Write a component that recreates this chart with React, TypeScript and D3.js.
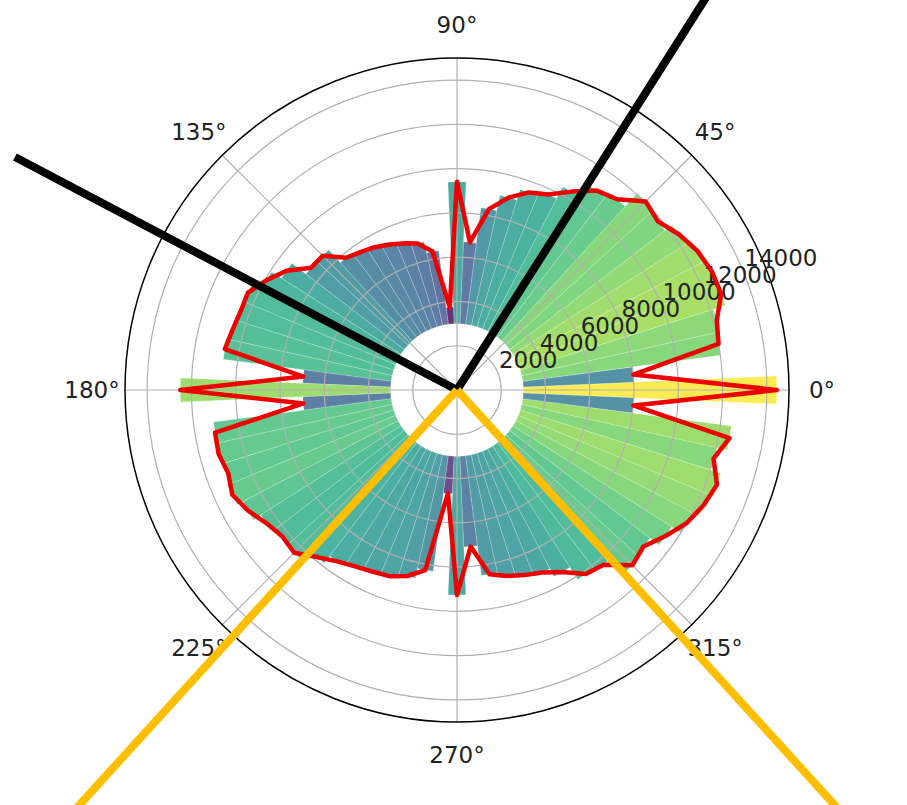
/**
 * Polar direction histogram
 *
 * 72 wedges (5° each) coloured with viridis by their value, a closed red
 * outline through the wedge tips, and four guide strokes from the centre.
 */

import React, { useEffect, useRef } from 'react';
import * as d3 from 'd3';

const WIDTH = 907;
const HEIGHT = 805;

// wedge centres, degrees counter-clockwise from east
const directions: number[] = [
  0, 5, 10, 15, 20, 25, 30, 35, 40, 45, 50, 55,
  60, 65, 70, 75, 80, 85, 90, 95, 100, 105, 110, 115,
  120, 125, 130, 135, 140, 145, 150, 155, 160, 165, 170, 175,
  180, 185, 190, 195, 200, 205, 210, 215, 220, 225, 230, 235,
  240, 245, 250, 255, 260, 265, 270, 275, 280, 285, 290, 295,
  300, 305, 310, 315, 320, 325, 330, 335, 340, 345, 350, 355,
];

// radial value reached by each wedge
const counts: number[] = [
  14450, 8000, 12000, 12150, 12700, 12700, 12550, 12250, 11850, 12050, 11250, 11000,
  10350, 9750, 9500, 9000, 8300, 6700, 9410, 3750, 6350, 6850, 7050, 7250,
  7450, 7600, 7800, 8580, 8600, 9400, 9930, 10420, 10400, 10500, 10650, 6970,
  12500, 6970, 11100, 11150, 11000, 11200, 10900, 10500, 10300, 10400, 9850, 9450,
  9200, 9050, 8950, 8700, 8260, 4690, 9260, 7100, 8450, 8700, 8900, 9100,
  9500, 10150, 10300, 11200, 11000, 11500, 12000, 12300, 12500, 12000, 12500, 8000,
];

const barBottom = 3000;
const barWidthDeg = 5;
const rMax = 15000;

const radialTicks: number[] = [2000, 4000, 6000, 8000, 10000, 12000, 14000];
const angleTicks: number[] = [0, 45, 90, 135, 180, 225, 270, 315];
const angleTickLabels: string[] = ['0°', '45°', '90°', '135°', '180°', '225°', '270°', '315°'];

// guide strokes drawn from the centre (direction in degrees, reach in radial units)
const blackGuideAngles: number[] = [57.6, 152.2];
const blackGuideReach: number[] = [24000, 22580];
const orangeGuideAngles: number[] = [227.7, 312.3];
const orangeGuideReach: number[] = [28000, 28000];

const FONT = '"DejaVu Sans", sans-serif';

const toRad = (deg: number) => (deg * Math.PI) / 180;
// d3 radial angles start at 12 o'clock and run clockwise
const d3Angle = (deg: number) => Math.PI / 2 - toRad(deg);

const PolarHistogram: React.FC = () => {
  const svgRef = useRef<SVGSVGElement>(null);

  useEffect(() => {
    document.body.style.margin = '0';
    if (!svgRef.current) return;

    const svg = d3.select(svgRef.current);
    svg.selectAll('*').remove();

    const cx = 457;
    const cy = 390;
    const outer = 332;

    const r = d3.scaleLinear().domain([0, rMax]).range([0, outer]);
    const color = d3
      .scaleSequential(d3.interpolateViridis)
      .domain([d3.min(counts) as number, d3.max(counts) as number]);

    const g = svg.append('g').attr('transform', `translate(${cx},${cy})`);

    const rows = directions.map((dir, i) => ({ dir, value: counts[i] }));

    // Wedges
    const arc = d3
      .arc<{ dir: number; value: number }>()
      .innerRadius(r(barBottom))
      .outerRadius((d) => r(d.value))
      .startAngle((d) => d3Angle(d.dir) - toRad(barWidthDeg / 2))
      .endAngle((d) => d3Angle(d.dir) + toRad(barWidthDeg / 2));

    g.append('g')
      .selectAll('path')
      .data(rows)
      .enter()
      .append('path')
      .attr('d', arc)
      .attr('fill', (d) => color(d.value))
      .attr('fill-opacity', 0.8)
      .attr('stroke', '#ffffff')
      .attr('stroke-opacity', 0.35)
      .attr('stroke-width', 0.6);

    // Grid on top of the wedges
    const grid = g.append('g').attr('fill', 'none').attr('stroke', '#b0b0b0').attr('stroke-width', 1.2);
    grid
      .selectAll('circle')
      .data(radialTicks)
      .enter()
      .append('circle')
      .attr('r', (d) => r(d));
    grid
      .selectAll('line')
      .data(angleTicks)
      .enter()
      .append('line')
      .attr('x1', 0)
      .attr('y1', 0)
      .attr('x2', (d) => outer * Math.cos(toRad(d)))
      .attr('y2', (d) => -outer * Math.sin(toRad(d)));

    // Spine
    g.append('circle')
      .attr('r', outer)
      .attr('fill', 'none')
      .attr('stroke', '#000')
      .attr('stroke-width', 1.5);

    // Angle labels
    g.append('g')
      .selectAll('text')
      .data(angleTicks)
      .enter()
      .append('text')
      .attr('x', (d) => (outer + 33) * Math.cos(toRad(d)))
      .attr('y', (d) => -(outer + 33) * Math.sin(toRad(d)))
      .attr('text-anchor', 'middle')
      .attr('dominant-baseline', 'central')
      .attr('font-family', FONT)
      .attr('font-size', '23px')
      .attr('fill', '#222')
      .text((d, i) => angleTickLabels[i]);

    // Radial labels along 22.5°
    const labelAngle = toRad(22.5);
    g.append('g')
      .selectAll('text')
      .data(radialTicks)
      .enter()
      .append('text')
      .attr('x', (d) => r(d) * Math.cos(labelAngle) + 1)
      .attr('y', (d) => -r(d) * Math.sin(labelAngle) - 5)
      .attr('text-anchor', 'start')
      .attr('font-family', FONT)
      .attr('font-size', '23px')
      .attr('fill', '#222')
      .text((d) => String(d));

    // Outline through the wedge tips
    const outline = d3
      .lineRadial<{ dir: number; value: number }>()
      .angle((d) => d3Angle(d.dir))
      .radius((d) => r(d.value))
      .curve(d3.curveLinearClosed);

    g.append('path')
      .attr('d', outline(rows))
      .attr('fill', 'none')
      .attr('stroke', '#ee0000')
      .attr('stroke-width', 4.5)
      .attr('stroke-linejoin', 'round');

    // Guide strokes
    const drawGuides = (anglesDeg: number[], reach: number[], stroke: string) => {
      g.append('g')
        .selectAll('line')
        .data(anglesDeg)
        .enter()
        .append('line')
        .attr('x1', 0)
        .attr('y1', 0)
        .attr('x2', (d, i) => r(reach[i]) * Math.cos(toRad(d)))
        .attr('y2', (d, i) => -r(reach[i]) * Math.sin(toRad(d)))
        .attr('stroke', stroke)
        .attr('stroke-width', 8);
    };
    drawGuides(blackGuideAngles, blackGuideReach, '#000000');
    drawGuides(orangeGuideAngles, orangeGuideReach, '#ffbf00');
  }, []);

  return <svg ref={svgRef} width={WIDTH} height={HEIGHT} style={{ display: 'block' }} />;
};

export default function App() {
  return <PolarHistogram />;
}
